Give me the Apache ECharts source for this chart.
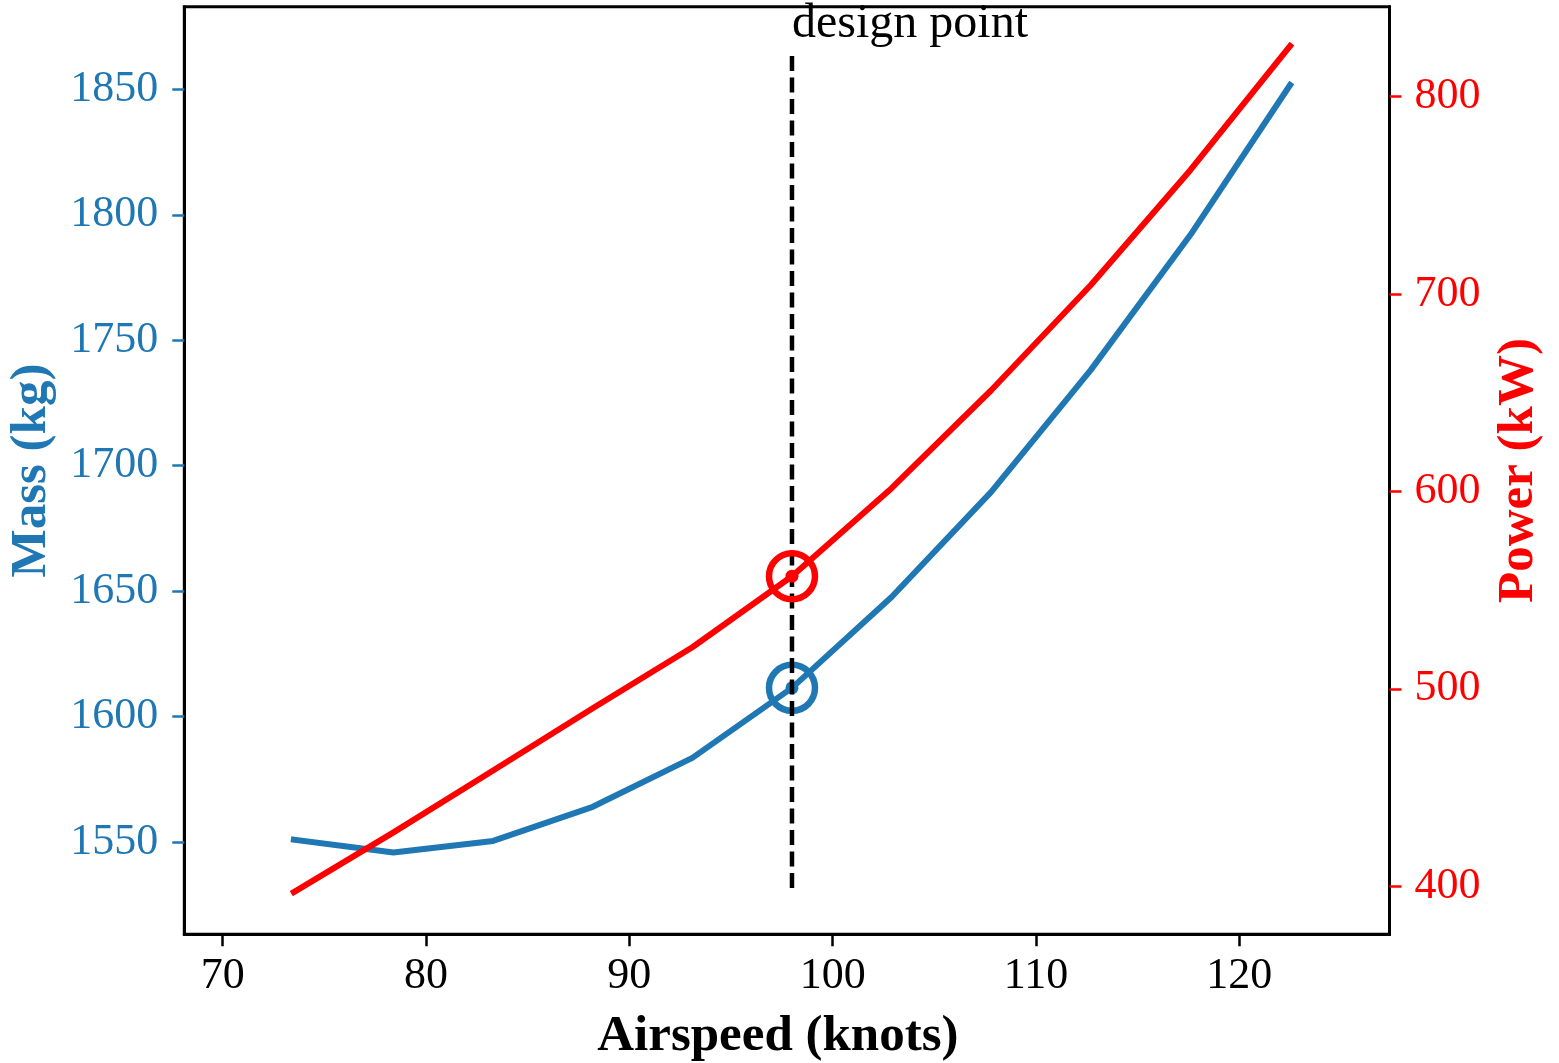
<!DOCTYPE html>
<html>
<head>
<meta charset="utf-8">
<style>
  html, body { margin: 0; padding: 0; background: #ffffff; }
  #chart { width: 1559px; height: 1063px; }
</style>
<script src="https://cdn.jsdelivr.net/npm/echarts@6/dist/echarts.min.js"></script>
</head>
<body>
<div id="chart"></div>
<script>
// ---- data ----
const airspeed = [73.5, 78.4, 83.3, 88.2, 93.1, 98.0, 102.9, 107.8, 112.7, 117.6, 122.5];
const mass     = [1551.0, 1545.9, 1550.5, 1564.1, 1583.6, 1611.5, 1647.7, 1689.6, 1738.2, 1792.0, 1851.7];
const power    = [397.1, 427.3, 458.7, 490.2, 521.1, 557.1, 601.7, 651.3, 704.6, 762.9, 825.7];
const designIndex = 5;            // design point = 98 knots
const designLabel = 'design point';
const xTicks     = [70, 80, 90, 100, 110, 120];
const massTicks  = [1550, 1600, 1650, 1700, 1750, 1800, 1850];
const powerTicks = [400, 500, 600, 700, 800];

// ---- axis limits ----
const xMin = 68.11, xMax = 127.39;
const mMin = 1513.3, mMax = 1882.9;
const pMin = 375.7, pMax = 845.6;

const BLUE = '#1f77b4';
const RED = '#ff0000';
const SERIF = '"Liberation Serif", "DejaVu Serif", serif';

const designX = airspeed[designIndex];
// vertical line spans 5%..95% of the axes height (mass axis units)
const vLow = mMin + 0.05 * (mMax - mMin);
const vHigh = mMin + 0.95 * (mMax - mMin);
const labelAnchorMass = 1875.8;

const chart = echarts.init(document.getElementById('chart'), null, { renderer: 'canvas' });

function axisCommon(color, ticks) {
  return {
    type: 'value',
    splitLine: { show: false },
    axisLine: { show: true, onZero: false, lineStyle: { color: '#000', width: 3 } },
    axisTick: { show: true, inside: false, length: 12, customValues: ticks,
                lineStyle: { color: color, width: 2.5 } },
    axisLabel: { show: true, customValues: ticks, color: color, fontSize: 44,
                 fontFamily: SERIF, formatter: v => String(v) }
  };
}

const xAxis = Object.assign(axisCommon('#000', xTicks), {
  min: xMin, max: xMax,
  name: 'Airspeed (knots)', nameLocation: 'middle', nameGap: 77,
  nameTextStyle: { color: '#000', fontSize: 51, fontWeight: 'bold', fontFamily: SERIF,
                   padding: [0, 18, 0, 0] }
});
xAxis.axisLabel.margin = 20;

const yMass = Object.assign(axisCommon(BLUE, massTicks), {
  position: 'left', min: mMin, max: mMax,
  name: 'Mass (kg)', nameLocation: 'middle', nameGap: 127, nameRotate: 90,
  nameTextStyle: { color: BLUE, fontSize: 51, fontWeight: 'bold', fontFamily: SERIF }
});
yMass.axisLabel.margin = 26;

const yPower = Object.assign(axisCommon(RED, powerTicks), {
  position: 'right', min: pMin, max: pMax,
  name: 'Power (kW)', nameLocation: 'middle', nameGap: 104, nameRotate: 90,
  nameTextStyle: { color: RED, fontSize: 51, fontWeight: 'bold', fontFamily: SERIF }
});
yPower.axisLabel.margin = 25;

const massData = airspeed.map((x, i) => [x, mass[i]]);
const powerData = airspeed.map((x, i) => [x, power[i]]);

function markerSeries(name, yIndex, value, color, z) {
  return {
    name: name, type: 'custom', xAxisIndex: 0, yAxisIndex: yIndex, z: z,
    data: [[designX, value]],
    renderItem: function (params, api) {
      const p = api.coord([api.value(0), api.value(1)]);
      return {
        type: 'group',
        children: [
          { type: 'circle', shape: { cx: p[0], cy: p[1], r: 23 },
            style: { fill: 'none', stroke: color, lineWidth: 6.5 } },
          { type: 'circle', shape: { cx: p[0], cy: p[1], r: 6.5 },
            style: { fill: color } }
        ]
      };
    }
  };
}

chart.setOption({
  animation: false,
  backgroundColor: '#ffffff',
  grid: { left: 184.3, right: 169.5, top: 6.7, bottom: 128.7, show: true,
          containLabel: false, outerBoundsMode: 'none',
          borderColor: '#000', borderWidth: 3, backgroundColor: 'transparent' },
  xAxis: xAxis,
  yAxis: [yMass, yPower],
  series: [
    { name: 'Mass', type: 'line', xAxisIndex: 0, yAxisIndex: 0, data: massData,
      showSymbol: false, symbol: 'none', z: 2,
      lineStyle: { color: BLUE, width: 6, cap: 'square', join: 'round', opacity: 1 } },
    markerSeries('Mass design', 0, mass[designIndex], BLUE, 3),
    { name: 'Design line', type: 'line', xAxisIndex: 0, yAxisIndex: 0,
      data: [[designX, vLow], [designX, vHigh]], symbol: 'none', z: 4,
      lineStyle: { color: '#000', width: 4.5, type: [15, 6.5], opacity: 1 } },
    { name: 'Design label', type: 'scatter', xAxisIndex: 0, yAxisIndex: 0,
      data: [[designX, labelAnchorMass]], symbolSize: 0, z: 4,
      itemStyle: { opacity: 1 },
      label: { show: true, position: [0, 0], formatter: designLabel, align: 'left',
               verticalAlign: 'middle', color: '#000', fontSize: 48, fontFamily: SERIF,
               opacity: 1 } },
    { name: 'Power', type: 'line', xAxisIndex: 0, yAxisIndex: 1, data: powerData,
      showSymbol: false, symbol: 'none', z: 5,
      lineStyle: { color: RED, width: 6, cap: 'square', join: 'round', opacity: 1 } },
    markerSeries('Power design', 1, power[designIndex], RED, 6)
  ]
});
</script>
</body>
</html>
